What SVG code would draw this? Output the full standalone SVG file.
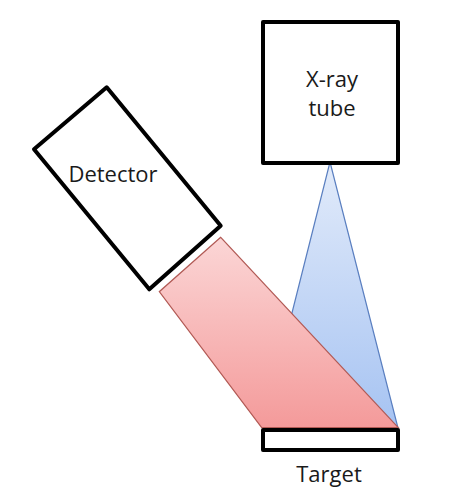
<svg xmlns="http://www.w3.org/2000/svg" width="453" height="494" viewBox="0 0 453 494">
<defs>
<linearGradient id="gPink" x1="0" y1="0" x2="0" y2="1">
<stop offset="0" stop-color="#fbd6d6"/>
<stop offset="1" stop-color="#f49a9a"/>
</linearGradient>
<linearGradient id="gBlue" x1="0" y1="0" x2="0" y2="1">
<stop offset="0" stop-color="#e2ebfa"/>
<stop offset="1" stop-color="#a6c3f2"/>
</linearGradient>
<style>
.box{fill:#ffffff;stroke:#000000;stroke-width:4;stroke-linejoin:round}
.lbl{font-family:"Open Sans","Liberation Sans",sans-serif;font-size:22px;fill:#1a1a1a;text-anchor:middle}
</style>
</defs>
<rect width="453" height="494" fill="#ffffff"/>
<g id="beams">
<polygon id="incident" points="330,162 263,428 398,428" fill="url(#gBlue)" stroke="#5a7fc0" stroke-width="1.2"/>
<polygon id="diffracted" points="220.7,237.3 159.3,291.7 261.7,427.7 398.3,427.7" fill="url(#gPink)" stroke="#b25a55" stroke-width="1.2"/>
</g>
<g id="xray-tube">
<rect class="box" x="263" y="22" width="135" height="141"/>
<text class="lbl" x="332" y="87">X-ray</text>
<text class="lbl" x="332" y="116">tube</text>
</g>
<g id="detector">
<polygon class="box" points="106.7,87.3 220.7,225.7 149.3,289.3 34,149.3"/>
<text class="lbl" x="113" y="182">Detector</text>
</g>
<g id="target">
<rect class="box" x="263" y="430" width="135" height="20" stroke-width="3.5"/>
<text class="lbl" x="329" y="482">Target</text>
</g>
</svg>
